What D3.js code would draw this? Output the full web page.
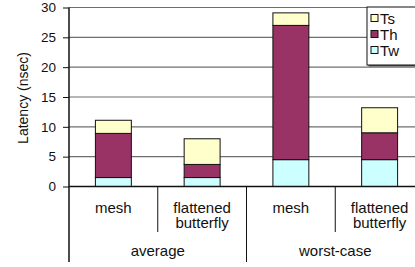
<!DOCTYPE html>
<html>
<head>
<meta charset="utf-8">
<script src="https://cdn.jsdelivr.net/npm/d3@7"></script>
<style>
  body { margin: 0; background: #fff; }
  svg { display: block; font-family: "Liberation Sans", Arial, sans-serif; }
</style>
</head>
<body>
<script>
// data
const categories = ["mesh", "flattened butterfly", "mesh", "flattened butterfly"];
const groups = ["average", "worst-case"];
const tw = [1.5, 1.5, 4.5, 4.5];
const th = [7.4, 2.2, 22.5, 4.5];
const ts = [2.2, 4.3, 2.1, 4.2];
const seriesNames = ["Tw", "Th", "Ts"];
const legendOrder = ["Ts", "Th", "Tw"];
const yTicks = [0, 5, 10, 15, 20, 25, 30];

const colors = { Ts: "#ffffcc", Th: "#993366", Tw: "#ccffff" };

const width = 415, height = 267;
const plotLeft = 69, plotRight = 424, plotTop = 7.5, plotBottom = 186.5;

const svg = d3.select("body").append("svg")
    .attr("width", width)
    .attr("height", height);

const x = d3.scaleBand()
    .domain(d3.range(categories.length))
    .range([plotLeft, plotRight]);

const y = d3.scaleLinear()
    .domain([0, 30])
    .range([plotBottom, plotTop]);

// grid lines
svg.append("g")
    .selectAll("line")
    .data(yTicks.filter(d => d > 0))
    .join("line")
    .attr("x1", plotLeft).attr("x2", plotRight)
    .attr("y1", d => y(d)).attr("y2", d => y(d))
    .attr("stroke", "#6e6e6e")
    .attr("stroke-width", 1.2);

// stacked bars
const rows = categories.map((c, i) => ({ i, Tw: tw[i], Th: th[i], Ts: ts[i] }));
const stacked = d3.stack().keys(seriesNames)(rows);
const barW = x.bandwidth() * 0.405;

svg.append("g")
    .selectAll("g")
    .data(stacked)
    .join("g")
    .attr("fill", d => colors[d.key])
    .selectAll("rect")
    .data(d => d)
    .join("rect")
    .attr("x", d => x(d.data.i) + (x.bandwidth() - barW) / 2)
    .attr("width", barW)
    .attr("y", d => y(d[1]))
    .attr("height", d => y(d[0]) - y(d[1]))
    .attr("stroke", "#111")
    .attr("stroke-width", 1);

// y axis
const yAxis = svg.append("g")
    .attr("transform", `translate(${plotLeft},0)`)
    .call(d3.axisLeft(y).tickValues(yTicks).tickSize(6).tickPadding(7));
yAxis.select(".domain").remove();
yAxis.selectAll(".tick line").attr("stroke", "#111");
yAxis.selectAll("text")
    .attr("font-size", 13.5)
    .attr("fill", "#111")
    .attr("font-family", "Liberation Sans, Arial, sans-serif");

svg.append("line")
    .attr("x1", plotLeft).attr("x2", plotLeft)
    .attr("y1", plotTop).attr("y2", 262)
    .attr("stroke", "#111").attr("stroke-width", 1.5);

// x axis line
svg.append("line")
    .attr("x1", plotLeft).attr("x2", plotRight)
    .attr("y1", plotBottom).attr("y2", plotBottom)
    .attr("stroke", "#111").attr("stroke-width", 1.5);

// category separators: inner ones short, group ones long
svg.append("g")
    .selectAll("line")
    .data(d3.range(1, categories.length))
    .join("line")
    .attr("x1", d => x(d)).attr("x2", d => x(d))
    .attr("y1", plotBottom)
    .attr("y2", d => d % 2 === 0 ? 262 : 232)
    .attr("stroke", "#111");

// category labels
const catLabels = svg.append("g")
    .selectAll("text")
    .data(categories)
    .join("text")
    .attr("text-anchor", "middle")
    .attr("font-size", 15)
    .attr("fill", "#111");
catLabels.each(function (d, i) {
    const words = d.split(" ");
    d3.select(this).selectAll("tspan")
        .data(words)
        .join("tspan")
        .attr("x", x(i) + x.bandwidth() / 2)
        .attr("y", (w, j) => 212.5 + j * 15.5)
        .text(w => w);
});

// group labels
svg.append("g")
    .selectAll("text")
    .data(groups)
    .join("text")
    .attr("x", (d, g) => (x(g * 2) + x(g * 2 + 1) + x.bandwidth()) / 2)
    .attr("y", 255.5)
    .attr("text-anchor", "middle")
    .attr("font-size", 15)
    .attr("fill", "#111")
    .text(d => d);

// y axis title
svg.append("text")
    .attr("transform", `translate(28,${(plotTop + plotBottom) / 2 + 1}) rotate(-90)`)
    .attr("text-anchor", "middle")
    .attr("font-size", 14)
    .attr("fill", "#111")
    .text("Latency (nsec)");

// legend
const legend = svg.append("g").attr("transform", "translate(367,7)");
legend.append("rect")
    .attr("x", 1.5).attr("y", 1.5)
    .attr("width", 60).attr("height", 58)
    .attr("fill", "#555");
legend.append("rect")
    .attr("width", 60).attr("height", 58)
    .attr("fill", "#fff")
    .attr("stroke", "#111");
const items = legend.selectAll("g.item")
    .data(legendOrder)
    .join("g")
    .attr("class", "item")
    .attr("transform", (d, i) => `translate(4,${11 + i * 16})`);
items.append("rect")
    .attr("x", 0).attr("y", -3.5)
    .attr("width", 7).attr("height", 7)
    .attr("fill", d => colors[d])
    .attr("stroke", "#111");
items.append("text")
    .attr("x", 9)
    .attr("y", 5.5)
    .attr("font-size", 15)
    .attr("fill", "#111")
    .text(d => d);
</script>
</body>
</html>
